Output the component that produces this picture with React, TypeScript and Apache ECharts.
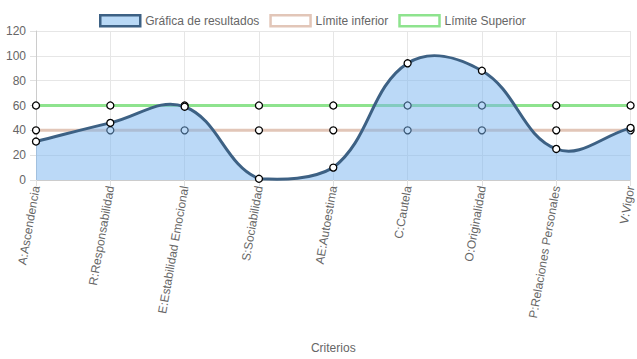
import React, { useEffect, useRef } from "react";
import * as echarts from "echarts";

const categories = [
  "A:Ascendencia",
  "R:Responsabilidad",
  "E:Estabilidad Emocional",
  "S:Sociabilidad",
  "AE:Autoestima",
  "C:Cautela",
  "O:Originalidad",
  "P:Relaciones Personales",
  "V:Vigor",
];
const resultados = [31, 46, 59, 1, 10, 94, 88, 25, 42];
const limiteInferior = [40, 40, 40, 40, 40, 40, 40, 40, 40];
const limiteSuperior = [60, 60, 60, 60, 60, 60, 60, 60, 60];
const yTicks = { min: 0, max: 120, interval: 20 };

const FONT = "'Liberation Sans', Arial, sans-serif";
const TENSION = 0.4;

function buildPath(pts: number[][], baseY: number, top: number, bottom: number, closeArea: boolean) {
  const n = pts.length;
  const cps: { pre: number[]; nxt: number[] }[] = [];
  for (let i = 0; i < n; i++) {
    const p = pts[i];
    const prev = i > 0 ? pts[i - 1] : p;
    const next = i < n - 1 ? pts[i + 1] : p;
    const d01 = Math.hypot(p[0] - prev[0], p[1] - prev[1]);
    const d12 = Math.hypot(next[0] - p[0], next[1] - p[1]);
    let s01 = d01 / (d01 + d12);
    let s12 = d12 / (d01 + d12);
    if (!isFinite(s01)) s01 = 0;
    if (!isFinite(s12)) s12 = 0;
    const fa = TENSION * s01;
    const fb = TENSION * s12;
    const clamp = (y: number) => Math.max(top, Math.min(bottom, y));
    cps.push({
      pre: [p[0] - fa * (next[0] - prev[0]), clamp(p[1] - fa * (next[1] - prev[1]))],
      nxt: [p[0] + fb * (next[0] - prev[0]), clamp(p[1] + fb * (next[1] - prev[1]))],
    });
  }
  let d = `M${pts[0][0]},${pts[0][1]}`;
  for (let i = 1; i < n; i++) {
    const a = cps[i - 1].nxt;
    const b = cps[i].pre;
    d += ` C${a[0]},${a[1]} ${b[0]},${b[1]} ${pts[i][0]},${pts[i][1]}`;
  }
  if (closeArea) {
    d += ` L${pts[n - 1][0]},${baseY} L${pts[0][0]},${baseY} Z`;
  }
  return d;
}

export default function App() {
  const ref = useRef<HTMLDivElement>(null);
  useEffect(() => {
    if (!ref.current) return;
    const chart = echarts.init(ref.current, undefined, { renderer: "svg" });
    const symbolStyle = { color: "#ffffff", borderColor: "#000000", borderWidth: 1.3 };
    chart.setOption({
      animation: false,
      textStyle: { fontFamily: FONT },
      legend: {
        top: 9,
        left: 94,
        itemWidth: 40,
        itemHeight: 11,
        itemGap: 10,
        textStyle: { color: "#666", fontSize: 12, fontFamily: FONT },
        data: [
          {
            name: "Gráfica de resultados",
            icon: "rect",
            itemStyle: { color: "#b9d9f6", borderColor: "#3d6184", borderWidth: 2.5 },
          },
          {
            name: "Límite inferior",
            icon: "rect",
            itemStyle: { color: "#ffffff", borderColor: "#e2c6b8", borderWidth: 2.5 },
          },
          {
            name: "Límite Superior",
            icon: "rect",
            itemStyle: { color: "#ffffff", borderColor: "#8ee38e", borderWidth: 2.5 },
          },
        ],
      },
      grid: { left: 36, right: 4, top: 31, bottom: 179, containLabel: false },
      xAxis: {
        type: "category",
        data: categories,
        boundaryGap: false,
        name: "Criterios",
        nameLocation: "middle",
        nameGap: 162,
        nameTextStyle: { color: "#666", fontSize: 12, fontFamily: FONT },
        axisLine: { show: true, lineStyle: { color: "#ccc" } },
        axisTick: { show: true, length: 6, lineStyle: { color: "#e0e0e0" } },
        axisLabel: { rotate: 80, color: "#666", fontSize: 12, fontFamily: FONT, margin: 6, interval: 0 },
        splitLine: { show: true, lineStyle: { color: "#e6e6e6" } },
      },
      yAxis: {
        type: "value",
        min: yTicks.min,
        max: yTicks.max,
        interval: yTicks.interval,
        axisLine: { show: true, lineStyle: { color: "#ccc" } },
        axisTick: { show: true, length: 6, lineStyle: { color: "#e0e0e0" } },
        axisLabel: { color: "#666", fontSize: 12, fontFamily: FONT, margin: 10 },
        splitLine: { show: true, lineStyle: { color: "#e6e6e6" } },
      },
      series: [
        {
          name: "Límite inferior",
          type: "line",
          data: limiteInferior,
          z: 2,
          symbol: "circle",
          symbolSize: 7,
          itemStyle: symbolStyle,
          lineStyle: { color: "#e2c6b8", width: 3 },
          color: "#e2c6b8",
        },
        {
          name: "Límite Superior",
          type: "line",
          data: limiteSuperior,
          z: 2,
          symbol: "circle",
          symbolSize: 7,
          itemStyle: symbolStyle,
          lineStyle: { color: "#8ee38e", width: 3 },
          color: "#8ee38e",
        },
        {
          name: "curve",
          type: "custom",
          z: 4,
          silent: true,
          data: [0],
          renderItem: (params: any, api: any) => {
            if (params.dataIndex !== 0) return null;
            const pts = resultados.map((v, i) => api.coord([i, v]));
            const c = params.coordSys;
            const baseY = api.coord([0, yTicks.min])[1];
            return {
              type: "group",
              children: [
                {
                  type: "path",
                  shape: { pathData: buildPath(pts, baseY, c.y, c.y + c.height, true) },
                  style: { fill: "rgba(120,180,240,0.5)", stroke: "none" },
                },
                {
                  type: "path",
                  shape: { pathData: buildPath(pts, baseY, c.y, c.y + c.height, false) },
                  style: { fill: "none", stroke: "#3d6184", lineWidth: 3 },
                },
              ],
            };
          },
        },
        {
          name: "Gráfica de resultados",
          type: "line",
          data: resultados,
          z: 5,
          symbol: "circle",
          symbolSize: 7,
          itemStyle: symbolStyle,
          lineStyle: { opacity: 0, width: 0 },
          color: "#3d6184",
        },
      ],
    });
    return () => chart.dispose();
  }, []);
  return <div ref={ref} style={{ width: 637, height: 359, position: "absolute", left: 0, top: 0 }} />;
}
